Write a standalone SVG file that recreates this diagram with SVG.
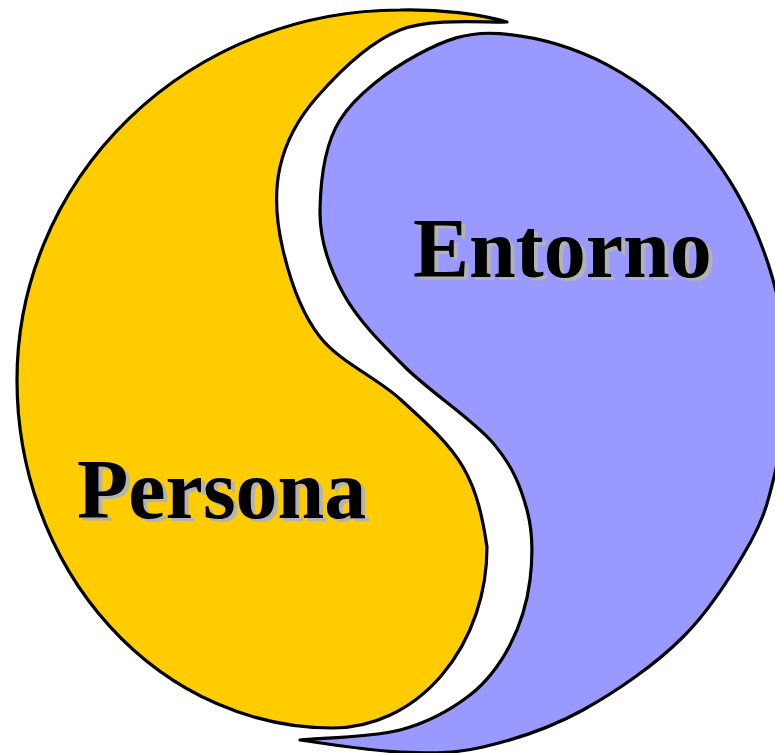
<svg xmlns="http://www.w3.org/2000/svg" width="775" height="753" viewBox="0 0 775 753">
  <style>
    .shape { stroke: #000; stroke-width: 3.2; stroke-linejoin: round; }
    .persona { fill: #FFCC00; }
    .entorno { fill: #9999FF; }
    .label { font-family: "Liberation Serif", "Times New Roman", serif; font-weight: bold; font-size: 84px; }
    .shadow { fill: #B3B3B3; }
    .text { fill: #000; }
  </style>
  <rect width="775" height="753" fill="#FFFFFF"/>
  <g id="persona">
    <path class="shape persona" d="M 507,22 C 480,14 440,9 400,10 A 383 370 0 0 0 17 380 A 316 348 0 0 0 333 728 A 154 181 0 0 0 487 547 C 483,520 477.5,491.7 463,467 C 448.5,442.3 423.8,420.7 400,399 C 376.2,377.3 339.5,361.8 320,337 C 300.5,312.2 289.7,278.3 283,250 C 276.3,221.7 274.3,192.5 280,167 C 285.7,141.5 297,119.8 317,97 C 337,74.2 368.3,42.5 400,30 C 431.7,17.5 487,22.8 507,22 Z"/>
    <text class="label shadow" x="81" y="521">Persona</text>
    <text class="label text" x="77" y="518">Persona</text>
  </g>
  <g id="entorno">
    <path class="shape entorno" d="M 300,740 C 318.3,738 371.7,737.5 400,730 C 428.3,722.5 451.7,709.2 470,695 C 488.3,680.8 500,664.2 510,645 C 520,625.8 527.2,602.5 530,580 C 532.8,557.5 533.2,532.8 527,510 C 520.8,487.2 513.3,466.8 493,443 C 472.7,419.2 430,392 405,367 C 380,342 357.2,319.2 343,293 C 328.8,266.8 319.5,238.8 320,210 C 320.5,181.2 323.8,145.8 340,120 C 356.2,94.2 390.3,69.5 417,55 C 443.7,40.5 467,31 500,33.7 A 308 357 0 0 1 788 390 C 785.8,417.7 781.3,447.5 775,473 C 768.7,498.5 765.3,515.7 750,543 C 734.7,570.3 710.8,609.2 683,637 C 655.2,664.8 616.3,691.7 583,710 C 549.7,728.3 513.5,740 483,747 C 452.5,754 430.5,753.2 400,752 C 369.5,750.8 318.3,742.5 300,740 Z"/>
    <text class="label shadow" x="417" y="280">Entorno</text>
    <text class="label text" x="413" y="277">Entorno</text>
  </g>
  <g id="connectors"/>
</svg>
